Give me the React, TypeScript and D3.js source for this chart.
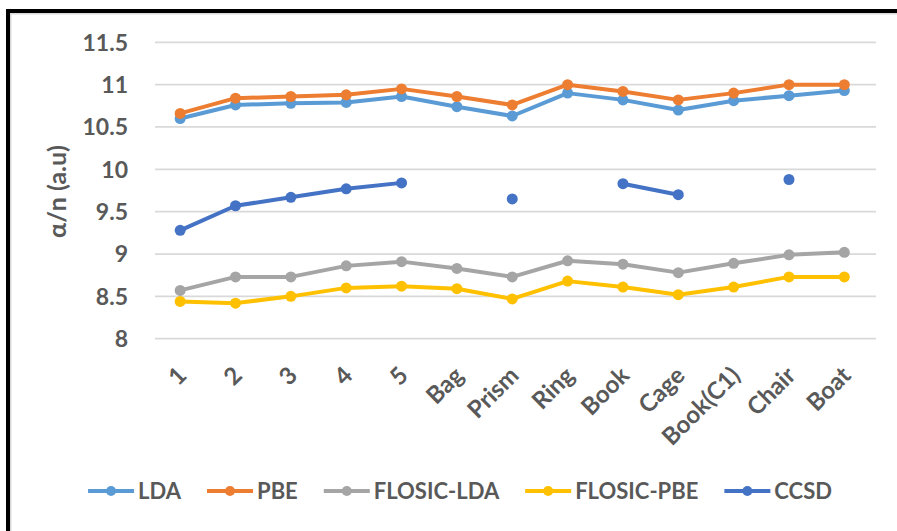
import React, { useEffect, useRef } from "react";
import * as d3 from "d3";

const categories = ["1", "2", "3", "4", "5", "Bag", "Prism", "Ring", "Book", "Cage", "Book(C1)", "Chair", "Boat"];
const yTicks = [8, 8.5, 9, 9.5, 10, 10.5, 11, 11.5];
const seriesNames = ["LDA", "PBE", "FLOSIC-LDA", "FLOSIC-PBE", "CCSD"];
const seriesColors = ["#5B9BD5", "#ED7D31", "#A5A5A5", "#FFC000", "#4472C4"];
const lda = [10.60, 10.76, 10.78, 10.79, 10.86, 10.74, 10.63, 10.90, 10.82, 10.70, 10.81, 10.87, 10.93];
const pbe = [10.66, 10.84, 10.86, 10.88, 10.95, 10.86, 10.76, 11.00, 10.92, 10.82, 10.90, 11.00, 11.00];
const flosicLda = [8.57, 8.73, 8.73, 8.86, 8.91, 8.83, 8.73, 8.92, 8.88, 8.78, 8.89, 8.99, 9.02];
const flosicPbe = [8.44, 8.42, 8.50, 8.60, 8.62, 8.59, 8.47, 8.68, 8.61, 8.52, 8.61, 8.73, 8.73];
const ccsd: (number | null)[] = [9.28, 9.57, 9.67, 9.77, 9.84, null, 9.65, null, 9.83, 9.70, null, 9.88, null];
const yTitle = "α/n (a.u)";

const seriesValues: (number | null)[][] = [lda, pbe, flosicLda, flosicPbe, ccsd];

export default function App() {
  const ref = useRef<SVGSVGElement>(null);
  useEffect(() => {
    const W = 897, H = 531;
    const font = "Lato, 'Open Sans', sans-serif";
    const textColor = "#595959";
    const svg = d3.select(ref.current);
    svg.selectAll("*").remove();
    svg.append("rect").attr("width", W).attr("height", H).attr("fill", "#fff");
    // frame
    svg.append("rect").attr("x", 10.75).attr("y", 13.75).attr("width", 2000).attr("height", 2000)
      .attr("fill", "none").attr("stroke", "#d9d9d9").attr("stroke-width", 1.5);
    svg.append("rect").attr("x", 8).attr("y", 11).attr("width", 2000).attr("height", 2000)
      .attr("fill", "none").attr("stroke", "#000").attr("stroke-width", 4);

    const x = d3.scalePoint<string>().domain(categories).range([152.5, 872]).padding(0.5);
    const y = d3.scaleLinear().domain([8, 11.5]).range([338.7, 42.3]);

    // gridlines
    svg.append("g").selectAll("line").data(yTicks).join("line")
      .attr("x1", 155).attr("x2", 876)
      .attr("y1", (d) => y(d)).attr("y2", (d) => y(d))
      .attr("stroke", "#d9d9d9").attr("stroke-width", 1.75);

    // y tick labels
    svg.append("g").selectAll("text").data(yTicks).join("text")
      .attr("x", 128).attr("y", (d) => y(d)).attr("dy", "0.36em")
      .attr("text-anchor", "end")
      .attr("font-family", font).attr("font-weight", "bold").attr("font-size", 23)
      .attr("fill", textColor)
      .text((d) => d3.format("~g")(d));

    // y title
    svg.append("text")
      .attr("transform", `translate(66,191.5) rotate(-90)`)
      .attr("text-anchor", "middle")
      .attr("font-family", font).attr("font-weight", "bold").attr("font-size", 25)
      .attr("fill", textColor)
      .text(yTitle);

    // x labels
    svg.append("g").selectAll("text").data(categories).join("text")
      .attr("transform", (d) => `translate(${(x(d) as number) + 8},377) rotate(-45)`)
      .attr("text-anchor", "end")
      .attr("font-family", font).attr("font-weight", "bold").attr("font-size", 24)
      .attr("fill", textColor)
      .text((d) => d);

    // series
    seriesValues.forEach((vals, i) => {
      const pts = vals.map((v, j) => ({ c: categories[j], v }));
      const line = d3.line<{ c: string; v: number | null }>()
        .defined((d) => d.v !== null)
        .x((d) => x(d.c) as number)
        .y((d) => y(d.v as number));
      const g = svg.append("g");
      g.append("path").attr("d", line(pts) as string)
        .attr("fill", "none").attr("stroke", seriesColors[i]).attr("stroke-width", 4)
        .attr("stroke-linejoin", "round").attr("stroke-linecap", "round");
      g.selectAll("circle").data(pts.filter((d) => d.v !== null)).join("circle")
        .attr("cx", (d) => x(d.c) as number).attr("cy", (d) => y(d.v as number))
        .attr("r", 5.5).attr("fill", seriesColors[i]);
    });

    // legend
    const lg = svg.append("g");
    const swatch = 46, gapText = 4, gapItem = 26, ly = 491;
    let cursor = 0;
    const items: { g: any; w: number }[] = [];
    seriesNames.forEach((name, i) => {
      const ig = lg.append("g");
      ig.append("line").attr("x1", 0).attr("x2", swatch).attr("y1", ly).attr("y2", ly)
        .attr("stroke", seriesColors[i]).attr("stroke-width", 4);
      ig.append("circle").attr("cx", swatch / 2).attr("cy", ly).attr("r", 5).attr("fill", seriesColors[i]);
      const t = ig.append("text").attr("x", swatch + gapText).attr("y", ly).attr("dy", "0.36em")
        .attr("font-family", font).attr("font-weight", "bold").attr("font-size", 22)
        .attr("fill", textColor).text(name);
      const tw = (t.node() as SVGTextElement).getComputedTextLength();
      items.push({ g: ig, w: swatch + gapText + tw });
    });
    const total = items.reduce((s, it) => s + it.w, 0) + gapItem * (items.length - 1);
    cursor = 460 - total / 2;
    items.forEach((it) => {
      it.g.attr("transform", `translate(${cursor},0)`);
      cursor += it.w + gapItem;
    });
  }, []);
  return <svg ref={ref} width={897} height={531} style={{ position: "absolute", left: 0, top: 0 }} />;
}
